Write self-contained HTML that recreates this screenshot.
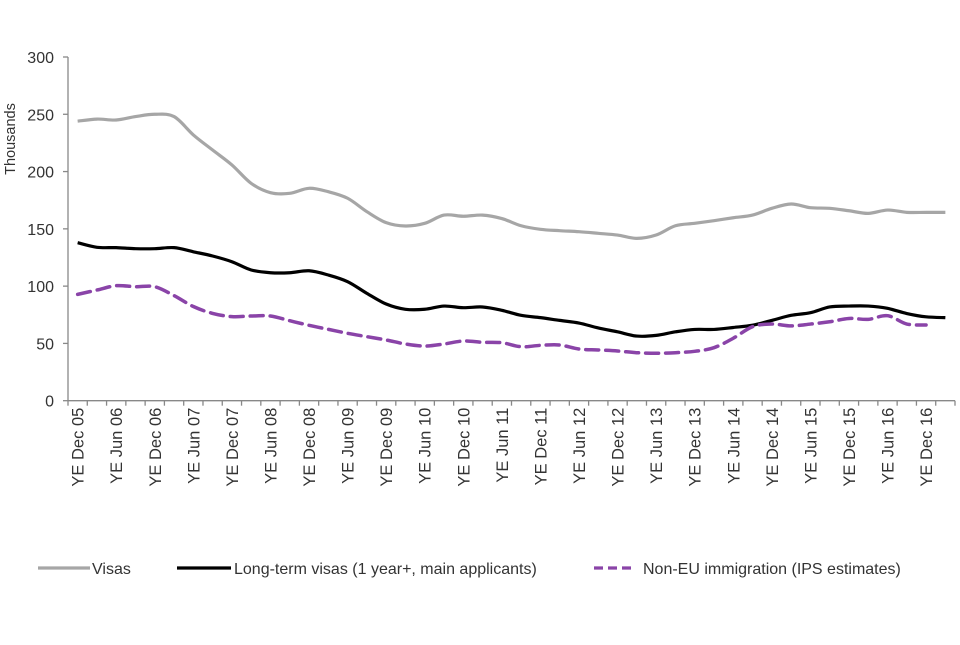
<!DOCTYPE html>
<html><head><meta charset="utf-8"><style>
body{margin:0;background:#fff;font-family:"Liberation Sans",sans-serif}
svg text{font-family:"Liberation Sans",sans-serif;fill:#333}
</style></head><body>
<svg id="chart" width="960" height="640" viewBox="0 0 960 640" xmlns="http://www.w3.org/2000/svg">
<g id="axes"></g><g id="series"></g><g id="legend"></g>
</svg>
<script>
const labels=[];
const yTicks=[0,50,100,150,200,250,300];
const visas=[244,245.8,245,248,250,248,232,218.8,205.8,189.7,181.6,181,185.4,182.4,176.7,165,155.4,152.5,154.8,162,161,162,159,152.7,149.6,148.4,147.5,146.1,144.6,141.7,144.6,152.7,154.8,157.1,159.7,162,167.9,171.7,168.5,167.9,165.8,163.5,166.4,164.4,164.4,164.4];
const longTerm=[137.9,133.9,133.6,132.7,132.7,133.6,130,126.3,121.3,114.1,111.7,111.7,113.4,109.7,103.9,93.7,84.4,79.8,79.8,82.6,81.2,81.8,78.9,74.5,72.5,70.1,67.8,63.5,60.1,56.4,57,60.1,62.2,62.2,63.9,65.9,70.1,74.5,76.8,81.8,82.6,82.6,80.6,76.1,73.2,72.5];
const nonEU=[92.8,96.6,100.4,99.5,99.5,91.7,82.2,76.2,73.4,73.9,73.9,69.8,65.8,62.3,58.8,55.9,53,49.5,47.7,49.5,52.1,51,50.6,47.1,48.3,48.6,45.1,44.3,43.4,41.9,41.4,41.9,43.1,46.3,54.5,64.6,66.9,65.3,66.9,68.9,71.8,71,74.2,66.9,66.1];
for(let y=5;y<=16;y++){labels.push('YE Dec '+String(y).padStart(2,'0'));if(y<16)labels.push('YE Jun '+String(y+1).padStart(2,'0'));}
const N=46,x0=68,x1=955,y0=400.7,yTop=57;
const bw=(x1-x0)/N;
const xS=i=>x0+bw*(i+0.5);
const yS=v=>y0-(v/300)*(y0-yTop);
const NS='http://www.w3.org/2000/svg';
function mk(t,a,p){const e=document.createElementNS(NS,t);for(const k in a)e.setAttribute(k,a[k]);p.appendChild(e);return e;}
const ax=document.getElementById('axes');
const yl=mk('line',{x1:x0,y1:yTop,x2:x0,y2:y0,stroke:'#888','stroke-width':1.3},ax);


const xl=mk('line',{x1:x0,y1:y0,x2:x1,y2:y0,stroke:'#888','stroke-width':1.3},ax);


yTicks.forEach(v=>{
 mk('line',{x1:x0-5,y1:yS(v),x2:x0,y2:yS(v),stroke:'#888','stroke-width':1.3},ax);
 const t=mk('text',{x:x0-14,y:yS(v)+6,'text-anchor':'end','font-size':16},ax);
 t.textContent=v;
 
 
});
for(let i=0;i<=N;i++)mk('line',{x1:x0+bw*i,y1:y0,x2:x0+bw*i,y2:y0+5,stroke:'#888','stroke-width':1.3},ax);
labels.forEach((l,k)=>{
 const x=xS(k*2);
 const t=mk('text',{x:0,y:0,'text-anchor':'end','font-size':16.5,transform:`translate(${x+6},${y0+7}) rotate(-90)`},ax);
 t.textContent=l;
 
 
});
const yt=mk('text',{x:0,y:0,'text-anchor':'middle','font-size':14.5,transform:'translate(15,139) rotate(-90)'},ax);
yt.textContent='Thousands';


function path(vals){
 const p=vals.map((v,i)=>[xS(i),yS(v)]);
 let d=`M${p[0][0]},${p[0][1]}`;
 for(let i=0;i<p.length-1;i++){
  const a=p[i-1]||p[i],b=p[i],c=p[i+1],e=p[i+2]||c;
  d+=`C${b[0]+(c[0]-a[0])/6},${b[1]+(c[1]-a[1])/6} ${c[0]-(e[0]-b[0])/6},${c[1]-(e[1]-b[1])/6} ${c[0]},${c[1]}`;
 }
 return d;
}
const sg=document.getElementById('series');
const s1=mk('path',{d:path(visas),fill:'none',stroke:'#a6a6a6','stroke-width':3.2,'stroke-linejoin':'round'},sg);


const s2=mk('path',{d:path(longTerm),fill:'none',stroke:'#000','stroke-width':3.2,'stroke-linejoin':'round'},sg);


const s3=mk('path',{d:path(nonEU),fill:'none',stroke:'#8a44a8','stroke-width':3.5,'stroke-dasharray':'13 7','stroke-linecap':'round'},sg);


const lg=document.getElementById('legend');
const ents=[['Visas','#a6a6a6',null,38,92,52],['Long-term visas (1 year+, main applicants)','#000',null,177,234,54],['Non-EU immigration (IPS estimates)','#8a44a8','9 5',594,643,40]];
ents.forEach(e=>{
 const g=mk('g',{},lg);
 
 
 const a={x1:e[3],y1:568,x2:e[3]+e[5],y2:568,stroke:e[1],'stroke-width':3.2};
 if(e[2])a['stroke-dasharray']=e[2];
 mk('line',a,g);
 const t=mk('text',{x:e[4],y:574,'font-size':16},g);
 t.textContent=e[0];
});
</script>
</body></html>
